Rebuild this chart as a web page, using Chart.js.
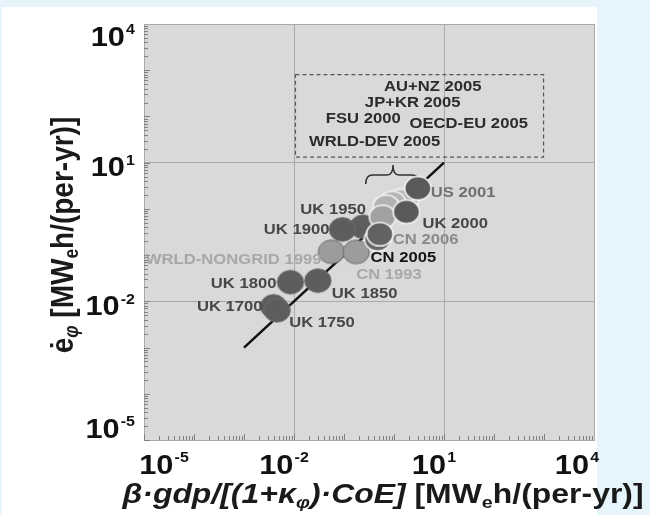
<!DOCTYPE html>
<html>
<head>
<meta charset="utf-8">
<script src="https://cdn.jsdelivr.net/npm/chart.js@4.4.0/dist/chart.umd.min.js"></script>
<style>
  html, body { margin: 0; padding: 0; background: #e6f4fb; }
  #panel { position: absolute; left: 2px; top: 7px; width: 595px; height: 508px; background: #fff; }
  #chart { position: absolute; left: 0; top: 0; }
</style>
</head>
<body>
<div id="panel"></div>
<canvas id="chart" width="650" height="515"></canvas>
<script>
const FAM = '"Liberation Sans", Arial, Helvetica, sans-serif';
const SX = 1.14; // the reference text is drawn a bit wide

// data, in draw order (later ones sit on top)
const names = ["UK 1700", "UK 1750", "UK 1800", "UK 1850", "UK 1950", "UK 1900",
  "WRLD-NONGRID 1999", "CN 1993", "AU+NZ 2005", "JP+KR 2005", "OECD-EU 2005",
  "FSU 2000", "WRLD-DEV 2005", "CN 2005", "CN 2006", "UK 2000", "US 2001"];
const xVals = [0.0039, 0.0046, 0.0085, 0.030, 0.24, 0.093,
  0.056, 0.175, 1.7, 1.3, 0.94,
  0.70, 0.59, 0.47, 0.52, 1.77, 3.0];
const yVals = [0.0078, 0.0064, 0.026, 0.028, 0.41, 0.36,
  0.118, 0.117, 1.63, 1.48, 1.34,
  1.11, 0.67, 0.221, 0.284, 0.865, 2.8];

const fitX = [1e-3, 10];
const fitY = [1e-3, 10];

const tickValues = [1e-5, 1e-2, 1e1, 1e4];
const tickExps = ["-5", "-2", "1", "4"];

// grouped regions shown in the dashed box
const boxNames = ["AU+NZ 2005", "JP+KR 2005", "FSU 2000", "OECD-EU 2005", "WRLD-DEV 2005"];

// layout (data-space anchors for the annotation box, brace and box labels)
const boxX = [0.0107, 980];
const boxY = [13.2, 800];
const boxLabelX = [5.94, 2.37, 0.242, 31.2, 0.411];
const boxLabelY = [437, 197, 87, 68, 28.6];
const braceX = [0.272, 0.955, 3.02];
const braceY = [3.45, 5.4, 8.9, 4.2];

// styles
const dark = "#5d5d5d";
const fills = {
  "WRLD-NONGRID 1999": "#9c9c9c", "CN 1993": "#9c9c9c",
  "AU+NZ 2005": "#b8b8b8", "JP+KR 2005": "#b6b6b6", "OECD-EU 2005": "#b4b4b4",
  "FSU 2000": "#b2b2b2", "WRLD-DEV 2005": "#a2a2a2",
  "CN 2005": "#666666", "CN 2006": "#626262", "UK 2000": "#5a5a5a", "US 2001": "#5a5a5a"
};
const whiteEdge = ["AU+NZ 2005", "JP+KR 2005", "OECD-EU 2005", "FSU 2000", "WRLD-DEV 2005",
  "CN 2005", "CN 2006", "UK 2000", "US 2001"];
const labelStyle = {
  "UK 1700": { dx: -11, dy: 1, align: "right", color: "#474747" },
  "UK 1750": { dx: 12, dy: 13, align: "left", color: "#474747" },
  "UK 1800": { dx: -14, dy: 2, align: "right", color: "#474747" },
  "UK 1850": { dx: 14, dy: 13, align: "left", color: "#474747" },
  "UK 1950": { dx: 3, dy: -17, align: "right", color: "#474747" },
  "UK 1900": { dx: -13, dy: 1, align: "right", color: "#474747" },
  "WRLD-NONGRID 1999": { dx: -10, dy: 8, align: "right", color: "#a8a8a8" },
  "CN 1993": { dx: 0, dy: 23, align: "left", color: "#a8a8a8" },
  "CN 2005": { dx: -7, dy: 19, align: "left", color: "#141414" },
  "CN 2006": { dx: 13, dy: 6, align: "left", color: "#8a8a8a" },
  "UK 2000": { dx: 16, dy: 12, align: "left", color: "#474747" },
  "US 2001": { dx: 13, dy: 5, align: "left", color: "#707070" }
};

function sprite(fill, edge, lw) {
  const c = document.createElement("canvas");
  c.width = 30; c.height = 27;
  const g = c.getContext("2d");
  g.beginPath();
  g.ellipse(15, 13.5, 13.2, 11.8, 0, 0, Math.PI * 2);
  g.fillStyle = fill;
  g.fill();
  g.lineWidth = lw;
  g.strokeStyle = edge;
  g.stroke();
  return c;
}
const sprites = names.map(n => {
  const f = fills[n] || dark;
  return whiteEdge.includes(n) ? sprite(f, "#f4f4f4", 1.6) : sprite(f, "#6c6c6c", 1);
});

function text(ctx, t, x, y, font, color, align) {
  ctx.save();
  ctx.font = font;
  ctx.fillStyle = color;
  ctx.textBaseline = "middle";
  ctx.textAlign = "left";
  const w = ctx.measureText(t).width * SX;
  const x0 = align === "right" ? x - w : align === "center" ? x - w / 2 : x;
  ctx.translate(x0, y);
  ctx.scale(SX, 1);
  ctx.fillText(t, 0, 0);
  ctx.restore();
}

function powLabel(ctx, exp, x, y, align) {
  const bs = 27, es = 14;
  const bf = `bold ${bs}px ${FAM}`, ef = `bold ${es}px ${FAM}`;
  ctx.font = bf; const wb = ctx.measureText("10").width;
  ctx.font = ef; const we = ctx.measureText(exp).width;
  const w = (wb + 1 + we) * SX;
  const x0 = align === "right" ? x - w : x - w / 2;
  const cap = bs * 0.358;
  ctx.save();
  ctx.translate(x0, y);
  ctx.scale(SX, 1);
  ctx.fillStyle = "#111";
  ctx.textAlign = "left";
  ctx.textBaseline = "alphabetic";
  ctx.font = bf; ctx.fillText("10", 0, cap);
  ctx.font = ef; ctx.fillText(exp, wb + 1, -cap + 8);
  ctx.restore();
}

// segments: t text, it italic, sub subscript
function rich(ctx, segs, size) {
  const parts = segs.map(s => {
    const fs = s.sub ? size * 0.62 : size;
    const font = `${s.it ? "italic " : ""}bold ${fs}px ${FAM}`;
    ctx.font = font;
    return { s, font, w: ctx.measureText(s.t).width };
  });
  let x = -parts.reduce((a, p) => a + p.w, 0) / 2;
  ctx.fillStyle = "#1a1a1a";
  ctx.textAlign = "left";
  ctx.textBaseline = "middle";
  parts.forEach(p => {
    ctx.font = p.font;
    ctx.fillText(p.s.t, x, p.s.sub ? size * 0.28 : 0);
    x += p.w;
  });
}

const xTitle = [
  { t: "\u03b2\u00b7gdp/[(1+\u03ba", it: true }, { t: "\u03c6", it: true, sub: true },
  { t: ")\u00b7CoE]", it: true }, { t: " [MW" }, { t: "e", sub: true }, { t: "h/(per-yr)]" }
];
const yTitle = [
  { t: "\u0117" }, { t: "\u03c6", it: true, sub: true }, { t: " [MW" }, { t: "e", sub: true },
  { t: "h/(per-yr)]" }
];

const decor = {
  id: "decor",
  beforeDraw(chart) {
    const { ctx, chartArea: a } = chart;
    ctx.save();
    ctx.fillStyle = "#d9d9d9";
    ctx.fillRect(a.left, a.top, a.right - a.left, a.bottom - a.top);
    ctx.restore();
  },
  beforeDatasetsDraw(chart) {
    const { ctx, chartArea: a, scales: { x, y } } = chart;
    ctx.save();
    ctx.strokeStyle = "#808080";
    ctx.lineWidth = 1;
    for (let e = -5; e < 4; e++) {
      for (let k = 1; k < 10; k++) {
        const v = k * Math.pow(10, e);
        const len = k === 1 ? 6 : 4;
        const px = Math.round(x.getPixelForValue(v)) + 0.5;
        ctx.beginPath(); ctx.moveTo(px, a.bottom); ctx.lineTo(px, a.bottom - len); ctx.stroke();
        const py = Math.round(y.getPixelForValue(v)) + 0.5;
        ctx.beginPath(); ctx.moveTo(a.left, py); ctx.lineTo(a.left + len, py); ctx.stroke();
      }
    }
    // dashed box
    const bx0 = x.getPixelForValue(boxX[0]), bx1 = x.getPixelForValue(boxX[1]);
    const by0 = y.getPixelForValue(boxY[1]), by1 = y.getPixelForValue(boxY[0]);
    ctx.setLineDash([4, 3]);
    ctx.strokeStyle = "#555";
    ctx.lineWidth = 1.2;
    ctx.strokeRect(bx0, by0, bx1 - bx0, by1 - by0);
    ctx.setLineDash([]);
    // brace
    const l = x.getPixelForValue(braceX[0]), m = x.getPixelForValue(braceX[1]), r = x.getPixelForValue(braceX[2]);
    const yl = y.getPixelForValue(braceY[0]), yf = y.getPixelForValue(braceY[1]);
    const yt = y.getPixelForValue(braceY[2]), yr = y.getPixelForValue(braceY[3]);
    ctx.beginPath();
    ctx.moveTo(l, yl);
    ctx.quadraticCurveTo(l, yf, l + 7, yf);
    ctx.lineTo(m - 6, yf);
    ctx.quadraticCurveTo(m, yf, m, yt);
    ctx.quadraticCurveTo(m, yf, m + 6, yf);
    ctx.lineTo(r - 7, yf);
    ctx.quadraticCurveTo(r, yf, r, yr);
    ctx.strokeStyle = "#333";
    ctx.lineWidth = 1.5;
    ctx.stroke();
    ctx.restore();
  },
  afterDatasetsDraw(chart) {
    const { ctx, scales: { x, y } } = chart;
    const lf = `bold 14.6px ${FAM}`;
    names.forEach((n, i) => {
      const st = labelStyle[n];
      if (!st) return;
      const px = x.getPixelForValue(xVals[i]), py = y.getPixelForValue(yVals[i]);
      text(ctx, n, px + st.dx, py + st.dy, lf, st.color, st.align);
    });
    boxNames.forEach((n, i) => {
      text(ctx, n, x.getPixelForValue(boxLabelX[i]), y.getPixelForValue(boxLabelY[i]), lf, "#2b2b2b", "center");
    });
  },
  afterDraw(chart) {
    const { ctx, chartArea: a, scales: { x, y } } = chart;
    tickValues.forEach((v, i) => {
      const px = Math.min(a.right - 17, Math.max(a.left + 20, x.getPixelForValue(v) - 10));
      powLabel(ctx, tickExps[i], px, 464, "center");
      const py = Math.min(a.bottom - 12, Math.max(a.top + 12, y.getPixelForValue(v) + 4));
      powLabel(ctx, tickExps[i], 135, py, "right");
    });
    ctx.save();
    ctx.translate(383, 495);
    ctx.scale(SX, 1);
    rich(ctx, xTitle, 28);
    ctx.restore();
    ctx.save();
    ctx.translate(64, 235);
    ctx.rotate(-Math.PI / 2);
    ctx.scale(1, SX);
    rich(ctx, yTitle, 28);
    ctx.restore();
  }
};

const gridColor = "#a9a9a9";
new Chart(document.getElementById("chart"), {
  type: "scatter",
  data: {
    datasets: [
      {
        type: "line",
        data: fitX.map((v, i) => ({ x: v, y: fitY[i] })),
        borderColor: "#111",
        borderWidth: 2.5,
        pointRadius: 0,
        order: 2
      },
      {
        data: names.map((n, i) => ({ x: xVals[i], y: yVals[i] })),
        pointStyle: sprites,
        pointRadius: 13,
        order: 1
      }
    ]
  },
  options: {
    responsive: false,
    animation: false,
    devicePixelRatio: 1,
    layout: { padding: { left: 0, top: 24, right: 56, bottom: 0 } },
    plugins: { legend: { display: false }, tooltip: { enabled: false } },
    scales: {
      x: {
        type: "logarithmic", min: 1e-5, max: 1e4,
        afterBuildTicks: s => { s.ticks = tickValues.map(v => ({ value: v })); },
        afterFit: s => { s.height = 75; },
        ticks: { display: false },
        grid: { color: gridColor, lineWidth: 1, drawTicks: false },
        border: { color: gridColor }
      },
      y: {
        type: "logarithmic", min: 1e-5, max: 1e4,
        afterBuildTicks: s => { s.ticks = tickValues.map(v => ({ value: v })); },
        afterFit: s => { s.width = 144; },
        ticks: { display: false },
        grid: { color: gridColor, lineWidth: 1, drawTicks: false },
        border: { color: gridColor }
      }
    }
  },
  plugins: [decor]
});
</script>
</body>
</html>
